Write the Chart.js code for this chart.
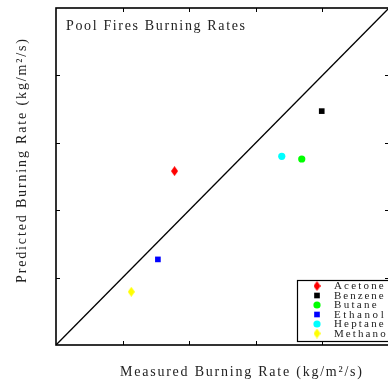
<!DOCTYPE html>
<html><head><meta charset="utf-8">
<script src="https://cdn.jsdelivr.net/npm/chart.js@4/dist/chart.umd.min.js"></script>
<style>html,body{margin:0;padding:0;overflow:hidden;background:#fff;width:388px;height:382px}canvas{display:block}</style>
</head><body><canvas id="c" width="394" height="382" style="width:394px;height:382px"></canvas>
<script>
const chartTitle = 'Pool Fires Burning Rates';
const xTitle = 'Measured Burning Rate (kg/m\u00B2/s)';
const yTitle = 'Predicted Burning Rate (kg/m\u00B2/s)';
const fuels = ['Acetone','Benzene','Butane','Ethanol','Heptane','Methanol'];
const measured  = [0.0178, 0.0399, 0.0369, 0.0153, 0.0339, 0.0113];
const predicted = [0.0258, 0.0347, 0.0276, 0.0127, 0.0280, 0.0079];
const axisTicks = [0.01, 0.02, 0.03, 0.04];
const axisMin = 0, axisMax = 0.05;
const colors = ['#ff0000','#000000','#00ff00','#0000ff','#00ffff','#ffff00'];
const shapes = ['diamond','square','circle','square','circle','diamond'];

function makeDiamond(color){
  const c = document.createElement('canvas'); c.width = 7; c.height = 10;
  const g = c.getContext('2d'); g.fillStyle = color; g.beginPath();
  g.moveTo(3.5,0); g.lineTo(7,5); g.lineTo(3.5,10); g.lineTo(0,5); g.closePath(); g.fill();
  return c;
}
function styleFor(i){
  if (shapes[i] === 'diamond') return {pointStyle: makeDiamond(colors[i]), pointRadius: 5};
  if (shapes[i] === 'square') return {pointStyle: 'rect', pointRadius: 4};
  return {pointStyle: 'circle', pointRadius: 3.6};
}
function drawMarker(ctx, i, x, y){
  const s = styleFor(i);
  ctx.save();
  ctx.fillStyle = colors[i]; ctx.strokeStyle = colors[i]; ctx.lineWidth = 0;
  Chart.helpers.drawPoint(ctx, {pointStyle: s.pointStyle, radius: s.pointRadius, rotation: 0, borderWidth: 0}, x, y);
  ctx.restore();
}
const FONT = '"Liberation Serif", "DejaVu Serif", serif';
function spaced(ctx, text, x, y, target){
  let w = 0; const ws = [];
  for (const ch of text){ const m = ctx.measureText(ch).width; ws.push(m); w += m; }
  const n = ws.length; const sp = n > 1 ? (target - w) / (n - 1) : 0;
  let cx = x; let i = 0;
  for (const ch of text){ ctx.fillText(ch, cx, y); cx += ws[i++] + sp; }
}

const datasets = fuels.map((f, i) => {
  const s = styleFor(i);
  return {
    type: 'scatter', label: f, data: [{x: measured[i], y: predicted[i]}],
    backgroundColor: colors[i], borderColor: colors[i], borderWidth: 0,
    pointStyle: s.pointStyle, pointRadius: s.pointRadius, pointHoverRadius: s.pointRadius, order: 1
  };
});
datasets.push({
  type: 'line', label: 'y=x', data: [{x: axisMin, y: axisMin}, {x: axisMax, y: axisMax}],
  borderColor: '#000', borderWidth: 1.3, pointRadius: 0, fill: false, order: 5
});

const framePlugin = {
  id: 'frame',
  afterDraw(chart){
    const ctx = chart.ctx, a = chart.chartArea, xs = chart.scales.x, ys = chart.scales.y;
    ctx.save();
    ctx.strokeStyle = '#000'; ctx.lineWidth = 1.6;
    ctx.strokeRect(a.left, a.top, a.right - a.left, a.bottom - a.top);
    ctx.lineWidth = 1;
    const tl = 4;
    axisTicks.forEach(v => {
      const px = Math.round(xs.getPixelForValue(v)) + 0.5;
      ctx.beginPath(); ctx.moveTo(px, a.top); ctx.lineTo(px, a.top + tl); ctx.stroke();
      ctx.beginPath(); ctx.moveTo(px, a.bottom); ctx.lineTo(px, a.bottom - tl); ctx.stroke();
      const py = Math.round(ys.getPixelForValue(v)) + 0.5;
      ctx.beginPath(); ctx.moveTo(a.left, py); ctx.lineTo(a.left + tl, py); ctx.stroke();
      ctx.beginPath(); ctx.moveTo(a.right, py); ctx.lineTo(a.right - tl, py); ctx.stroke();
    });
    // texts
    ctx.fillStyle = '#222'; ctx.textBaseline = 'alphabetic'; ctx.textAlign = 'left';
    ctx.font = '14px ' + FONT;
    spaced(ctx, chartTitle, 66, 30, 179);
    spaced(ctx, xTitle, 120, 376, 242);
    ctx.save(); ctx.translate(26, 283); ctx.rotate(-Math.PI / 2);
    spaced(ctx, yTitle, 0, 0, 244);
    ctx.restore();
    // legend
    const lx = 297, ly = 280, lw = 100, lh = 61;
    ctx.fillStyle = '#fff'; ctx.fillRect(lx, ly, lw, lh);
    ctx.strokeStyle = '#000'; ctx.lineWidth = 1.2; ctx.strokeRect(lx + 0.5, ly + 0.5, lw, lh);
    ctx.font = '11px ' + FONT; ctx.textBaseline = 'middle';
    fuels.forEach((f, i) => {
      const y = 286 + i * 9.5;
      drawMarker(ctx, i, 317, y);
      ctx.fillStyle = '#222';
      spaced(ctx, f, 334, y + 0.5, f.length * 7.1);
    });
    ctx.restore();
  }
};

new Chart(document.getElementById('c'), {
  data: {datasets},
  options: {
    responsive: false, animation: false, events: [],
    layout: {padding: {left: 56, top: 8, right: 1, bottom: 37}},
    plugins: {legend: {display: false}, tooltip: {enabled: false}, title: {display: false}},
    scales: {
      x: {type: 'linear', min: axisMin, max: axisMax, display: false},
      y: {type: 'linear', min: axisMin, max: axisMax, display: false}
    }
  },
  plugins: [framePlugin]
});
</script></body></html>
